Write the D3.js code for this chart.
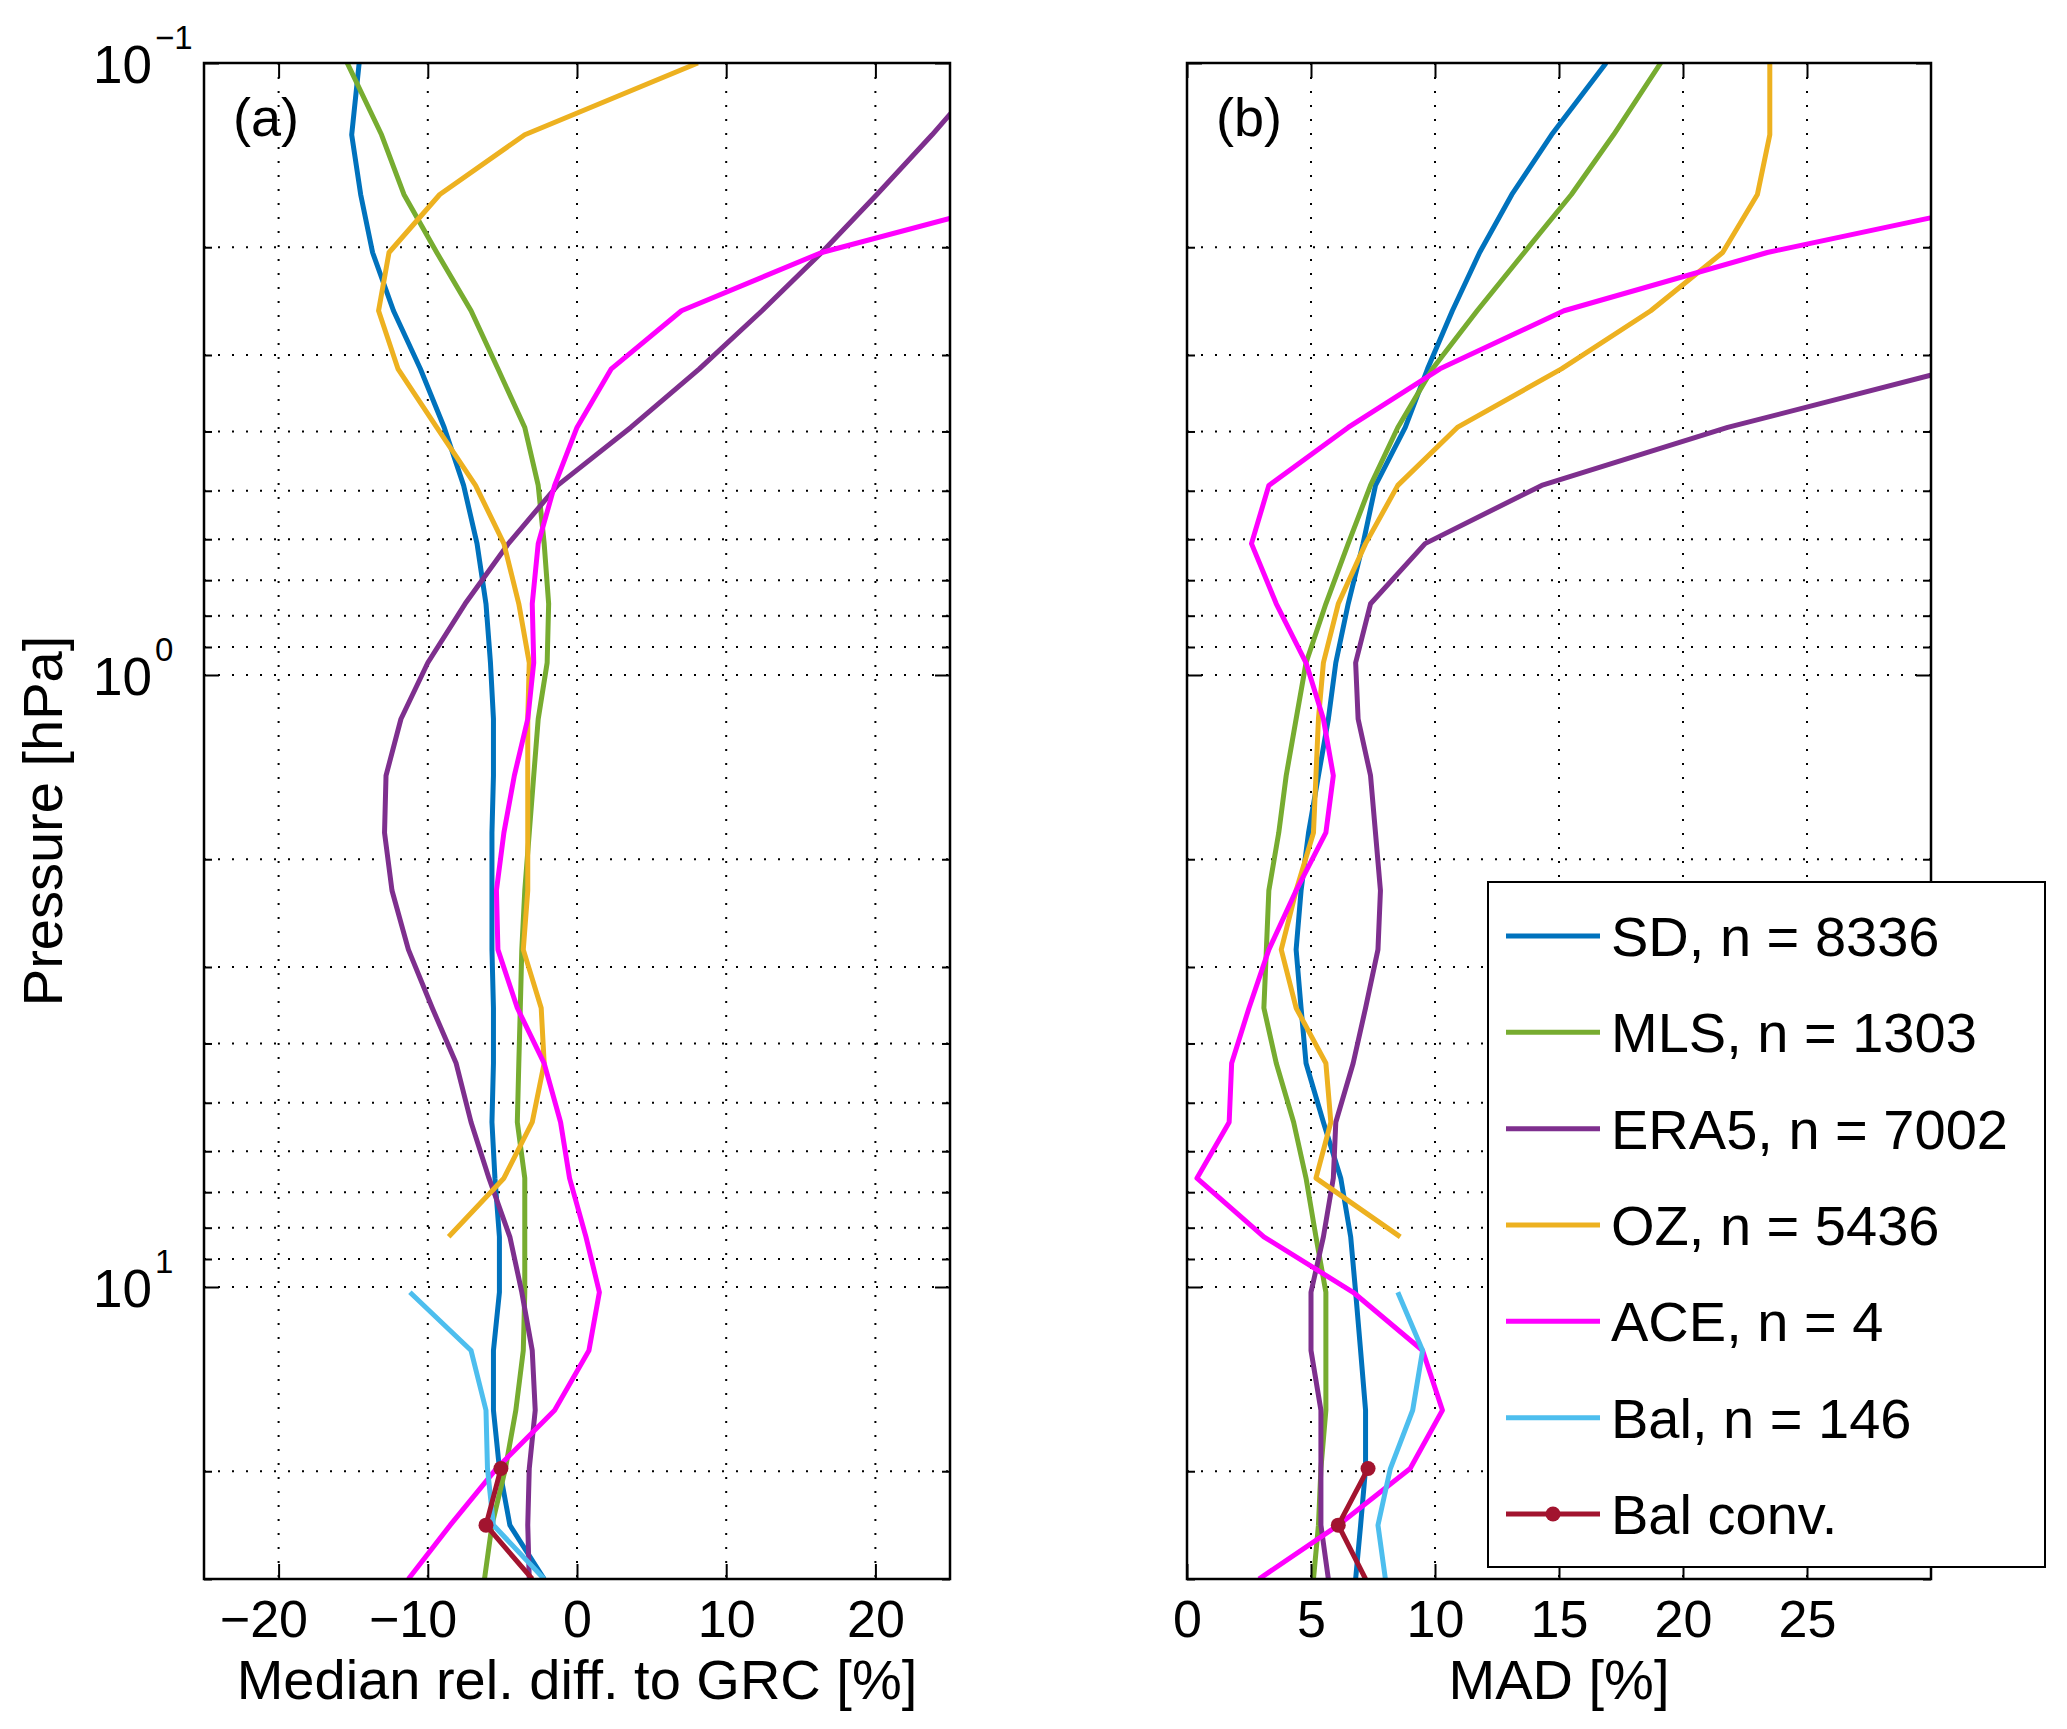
<!DOCTYPE html>
<html>
<head>
<meta charset="utf-8">
<script src="https://cdn.jsdelivr.net/npm/d3@7"></script>
<style>
  body { margin: 0; background: #fff; }
  text { font-family: "Liberation Sans", Arial, Helvetica, sans-serif; fill: #000; }
</style>
</head>
<body>
<svg id="chart" width="2067" height="1729"></svg>
<script>
// pressure levels [hPa] shared by all profiles
const levels = [0.1, 0.131, 0.164, 0.204, 0.254, 0.316, 0.394, 0.49, 0.61, 0.765, 0.955, 1.18, 1.46, 1.81,
                2.25, 2.81, 3.5, 4.31, 5.38, 6.64, 8.28, 10.2, 12.7, 15.9, 19.8, 24.5, 30];

// (a) median relative difference to GRC [%]
const sdMed   = [-14.6, -15.1, -14.5, -13.7, -12.3, -10.5, -8.9, -7.6, -6.7, -6.1, -5.8, -5.6, -5.6, -5.7,
                 -5.7, -5.7, -5.6, -5.6, -5.7, -5.5, -5.2, -5.2, -5.6, -5.6, -5.2, -4.5, -2.2];
const mlsMed  = [-15.4, -13.1, -11.6, -9.4, -7.1, -5.3, -3.5, -2.6, -2.2, -1.9, -2.0, -2.6, -2.9, -3.2,
                 -3.5, -3.7, -3.8, -3.9, -4.0, -3.5, -3.5, -3.5, -3.6, -4.1, -4.8, -5.7, -6.2];
const era5Med = [28.0, 23.8, 20.1, 16.4, 12.4, 8.2, 3.6, -1.3, -4.6, -7.5, -10.0, -11.8, -12.8, -12.9,
                 -12.4, -11.3, -9.7, -8.1, -7.1, -5.9, -4.5, -3.7, -3.0, -2.8, -3.2, -3.3, -3.2];
const ozMed   = [8.1, -3.5, -9.2, -12.6, -13.3, -12.0, -9.4, -6.8, -4.9, -3.9, -3.2, -3.3, -3.3, -3.3,
                 -3.3, -3.6, -2.4, -2.2, -3.0, -4.9, -8.6, null, null, null, null, null, null];
const aceMed  = [null, null, 31.0, 16.4, 7.0, 2.3, 0.0, -1.5, -2.6, -3.0, -2.9, -3.3, -4.2, -4.9,
                 -5.4, -5.3, -4.0, -2.2, -1.1, -0.5, 0.6, 1.5, 0.8, -1.5, -5.4, -8.5, -11.3];
const balMed  = [null, null, null, null, null, null, null, null, null, null, null, null, null, null,
                 null, null, null, null, null, null, null, -11.2, -7.1, -6.1, -6.0, -5.6, -2.2];
const balConvMed = [null, null, null, null, null, null, null, null, null, null, null, null, null, null,
                 null, null, null, null, null, null, null, null, null, null, -5.1, -6.1, -3.0];

// (b) MAD [%]
const sdMad   = [16.9, 14.7, 13.1, 11.8, 10.7, 9.7, 8.8, 7.6, 7.1, 6.5, 6.0, 5.7, 5.3, 4.9,
                 4.6, 4.4, 4.6, 4.8, 5.5, 6.2, 6.6, 6.8, 7.0, 7.2, 7.2, 7.0, 6.8];
const mlsMad  = [19.1, 17.2, 15.5, 13.6, 11.7, 9.9, 8.5, 7.4, 6.5, 5.6, 4.8, 4.4, 4.0, 3.7,
                 3.3, 3.2, 3.1, 3.6, 4.3, 4.8, 5.2, 5.6, 5.6, 5.6, 5.4, 5.3, 5.1];
const era5Mad = [null, null, null, null, null, 31.0, 21.8, 14.3, 9.6, 7.4, 6.8, 6.9, 7.4, 7.6,
                 7.8, 7.7, 7.2, 6.7, 6.0, 5.9, 5.5, 5.0, 5.0, 5.4, 5.4, 5.4, 5.7];
const ozMad   = [23.5, 23.5, 23.0, 21.6, 18.7, 15.1, 10.9, 8.5, 7.2, 6.1, 5.5, 5.3, 5.2, 5.1,
                 4.4, 3.8, 4.4, 5.6, 5.8, 5.2, 8.6, null, null, null, null, null, null];
const aceMad  = [null, null, 34.4, 23.4, 15.2, 10.2, 6.5, 3.3, 2.6, 3.6, 4.8, 5.5, 5.9, 5.6,
                 4.4, 3.3, 2.5, 1.8, 1.7, 0.4, 3.1, 6.7, 9.5, 10.3, 9.0, 6.1, 2.9];
const balMad  = [null, null, null, null, null, null, null, null, null, null, null, null, null, null,
                 null, null, null, null, null, null, null, 8.5, 9.5, 9.1, 8.2, 7.7, 8.0];
const balConvMad = [null, null, null, null, null, null, null, null, null, null, null, null, null, null,
                 null, null, null, null, null, null, null, null, null, null, 7.3, 6.1, 7.2];

const seriesNames = ['SD, n = 8336', 'MLS, n = 1303', 'ERA5, n = 7002', 'OZ, n = 5436',
                     'ACE, n = 4', 'Bal, n = 146', 'Bal conv.'];
const seriesColors = ['#0072BD', '#77AC30', '#7E2F8E', '#EDB120', '#FF00FF', '#4DBEEE', '#A2142F'];

const medTicks = [-20, -10, 0, 10, 20];
const madTicks = [0, 5, 10, 15, 20, 25];
const yMajor = [0.1, 1, 10];
const yMinor = [0.2, 0.3, 0.4, 0.5, 0.6, 0.7, 0.8, 0.9, 2, 3, 4, 5, 6, 7, 8, 9, 20, 30];
const yExp = ['\u22121', '0', '1'];

const svg = d3.select('#chart');
const font = '"Liberation Sans", Arial, Helvetica, sans-serif';

const yScale = d3.scaleLog().domain([0.1, 30]).range([63, 1579]);

const panels = [
  { id: 'a', x: d3.scaleLinear().domain([-25, 25]).range([204, 950]), ticks: medTicks,
    tag: '(a)', title: 'Median rel. diff. to GRC [%]', yLabels: true,
    data: [sdMed, mlsMed, era5Med, ozMed, aceMed, balMed, balConvMed] },
  { id: 'b', x: d3.scaleLinear().domain([0, 30]).range([1187, 1931]), ticks: madTicks,
    tag: '(b)', title: 'MAD [%]', yLabels: false,
    data: [sdMad, mlsMad, era5Mad, ozMad, aceMad, balMad, balConvMad] }
];

panels.forEach(p => {
  const [x0, x1] = p.x.range();
  const [y0, y1] = yScale.range();
  const g = svg.append('g');

  g.append('clipPath').attr('id', 'clip-' + p.id)
    .append('rect').attr('x', x0).attr('y', y0).attr('width', x1 - x0).attr('height', y1 - y0);

  // dotted grid
  g.append('g').selectAll('line')
    .data(yMinor.concat([1, 10]).filter(d => d < 30))
    .join('line')
      .attr('x1', x0).attr('x2', x1)
      .attr('y1', d => yScale(d)).attr('y2', d => yScale(d))
      .attr('stroke', '#000').attr('stroke-width', 2).attr('stroke-dasharray', '2,12');
  g.append('g').selectAll('line')
    .data(p.ticks.filter(d => p.x(d) > x0 + 1))
    .join('line')
      .attr('x1', d => p.x(d)).attr('x2', d => p.x(d))
      .attr('y1', y0).attr('y2', y1)
      .attr('stroke', '#000').attr('stroke-width', 2).attr('stroke-dasharray', '2,12');

  // profiles
  const line = d3.line()
    .defined(d => d[1] != null)
    .x(d => p.x(d[1]))
    .y(d => yScale(d[0]));
  const lg = g.append('g').attr('clip-path', `url(#clip-${p.id})`);
  p.data.forEach((vals, i) => {
    const pts = levels.map((l, j) => [l, vals[j]]);
    lg.append('path')
      .attr('d', line(pts))
      .attr('fill', 'none')
      .attr('stroke', seriesColors[i])
      .attr('stroke-width', 5)
      .attr('stroke-linejoin', 'round');
  });
  // markers for balloon conv.
  const conv = p.data[6];
  lg.selectAll('circle')
    .data(levels.map((l, j) => [l, conv[j]]).filter(d => d[1] != null && d[0] < 29))
    .join('circle')
      .attr('cx', d => p.x(d[1])).attr('cy', d => yScale(d[0]))
      .attr('r', 7.5).attr('fill', seriesColors[6]);

  // ticks
  const styleAxis = ax => {
    ax.select('.domain').remove();
    ax.selectAll('.tick line').attr('stroke-width', 2);
  };
  g.append('g').attr('transform', `translate(0,${y1})`)
    .call(d3.axisBottom(p.x).tickValues(p.ticks).tickSize(-15).tickSizeOuter(0))
    .call(styleAxis)
    .call(ax => ax.selectAll('.tick text')
      .attr('y', 58).attr('dy', null)
      .attr('font-size', 52).attr('font-family', font)
      .each(function(d) {
        if (d < 0) {
          const t = this.textContent;
          const full = this.getComputedTextLength();
          this.textContent = t.slice(1);
          const dig = this.getComputedTextLength();
          this.textContent = t;
          d3.select(this).attr('dx', -(full - dig) / 2);
        }
      }));
  g.append('g').attr('transform', `translate(0,${y0})`)
    .call(d3.axisTop(p.x).tickValues(p.ticks).tickSize(-15).tickSizeOuter(0).tickFormat(''))
    .call(styleAxis);
  [[d3.axisLeft, x0], [d3.axisRight, x1]].forEach(([axisFn, xx]) => {
    g.append('g').attr('transform', `translate(${xx},0)`)
      .call(axisFn(yScale).tickValues(yMajor).tickSize(-15).tickSizeOuter(0).tickFormat(''))
      .call(styleAxis);
    g.append('g').attr('transform', `translate(${xx},0)`)
      .call(axisFn(yScale).tickValues(yMinor).tickSize(-8).tickSizeOuter(0).tickFormat(''))
      .call(styleAxis);
  });

  // box
  g.append('rect')
    .attr('x', x0).attr('y', y0).attr('width', x1 - x0).attr('height', y1 - y0)
    .attr('fill', 'none').attr('stroke', '#000').attr('stroke-width', 2.5);

  // y tick labels (powers of ten)
  if (p.yLabels) {
    yMajor.forEach((v, i) => {
      const yy = yScale(v);
      g.append('text').attr('x', x0 - 52).attr('y', yy + 20)
        .attr('text-anchor', 'end').attr('font-size', 53).text('10');
      g.append('text').attr('x', x0 - 49).attr('y', yy - 14)
        .attr('font-size', 33).text(yExp[i]);
    });
    g.append('text')
      .attr('transform', `translate(62,${(y0 + y1) / 2}) rotate(-90)`)
      .attr('text-anchor', 'middle').attr('font-size', 56)
      .text('Pressure [hPa]');
  }

  // panel tag and x title
  g.append('text').attr('x', x0 + 29).attr('y', y0 + 73)
    .attr('font-size', 54).text(p.tag);
  g.append('text').attr('x', (x0 + x1) / 2).attr('y', 1699)
    .attr('text-anchor', 'middle').attr('font-size', 56).text(p.title);
});

// legend (drawn over panel b)
const leg = svg.append('g');
leg.append('rect')
  .attr('x', 1488).attr('y', 882).attr('width', 557).attr('height', 685)
  .attr('fill', '#fff').attr('stroke', '#000').attr('stroke-width', 2);
const rowY = d3.scaleLinear().domain([0, 6]).range([936, 1514]);
seriesNames.forEach((name, i) => {
  const yy = rowY(i);
  leg.append('line')
    .attr('x1', 1506).attr('x2', 1600).attr('y1', yy).attr('y2', yy)
    .attr('stroke', seriesColors[i]).attr('stroke-width', 5);
  if (i === 6) {
    leg.append('circle').attr('cx', 1553).attr('cy', yy).attr('r', 7.5).attr('fill', seriesColors[i]);
  }
  leg.append('text').attr('x', 1611).attr('y', yy + 20)
    .attr('font-size', 56).text(name);
});
</script>
</body>
</html>
